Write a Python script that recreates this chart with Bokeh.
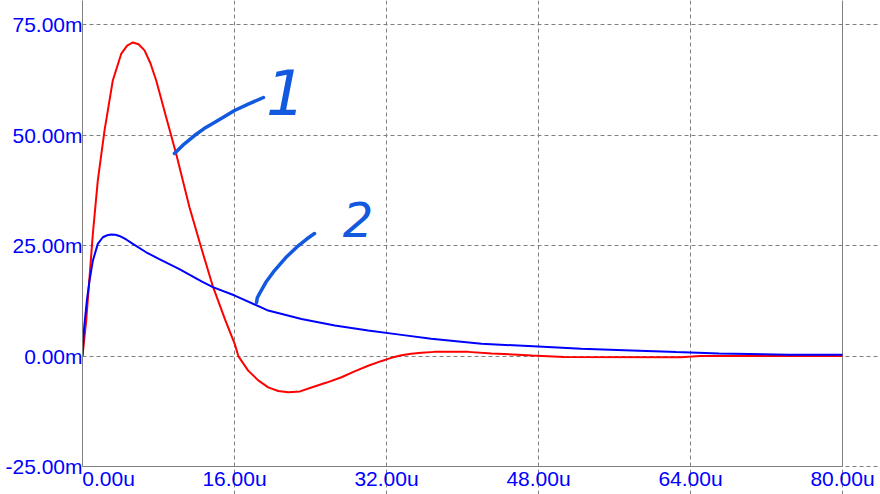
from bokeh.plotting import figure
from bokeh.models import FixedTicker, PrintfTickFormatter, Range1d
from bokeh.core.properties import value
from bokeh.embed import file_html
from bokeh.resources import INLINE

# --- data (time in u, value in m) ---
t1 = [0, 0.39, 1.09, 1.61, 2.32, 3.19, 4.07, 4.7, 5.3, 5.9, 6.53, 7.15, 7.76, 8.8, 9.86,
      11.26, 12.6, 13.75, 15.0, 16.03, 16.4, 17.44, 18.5, 19.55, 20.6, 21.65, 22.9,
      24.1, 25.7, 27.26, 28.7, 30.07, 31.5, 32.5, 33.58, 34.6, 35.7, 37.05, 40.6, 43.05,
      47.3, 50.7, 63, 65, 80]
v1 = [0, 8.0, 27.7, 39.7, 51.1, 62.4, 68.4, 70.3, 71.0, 70.6, 69.2, 66.3, 62.4, 54.1, 45.8,
      33.7, 23.8, 15.6, 8.3, 2.7, 0, -3.3, -5.5, -7.1, -7.9, -8.2, -8.0,
      -7.1, -6.0, -4.8, -3.4, -2.2, -1.1, -0.4, 0.2, 0.5, 0.75, 0.95, 0.95, 0.6,
      0.15, -0.2, -0.25, 0, 0]

t2 = [0, 0.1, 0.21, 0.46, 0.74, 1.09, 1.61, 2.14, 2.6, 3.02, 3.45, 3.89, 4.6, 5.3, 6.7,
      8.03, 10.2, 12.53, 13.72, 16.03, 19.55, 23.05, 26.56, 30.07, 33.58, 36.7, 42,
      47.96, 52.5, 57.8, 62.5, 67, 74.3, 80]
v2 = [0, 4.5, 7.3, 12.6, 17.1, 21.6, 25.4, 26.9, 27.35, 27.5, 27.45, 27.2, 26.4, 25.4, 23.5,
      22.0, 19.7, 16.9, 15.6, 13.7, 10.3, 8.4, 6.9, 5.8, 4.8, 3.9, 2.8,
      2.15, 1.65, 1.25, 0.9, 0.6, 0.3, 0.3]

x_ticks = [0, 16, 32, 48, 64, 80]
x_label_pos = [2.75, 16, 32, 48, 64, 80]   # first label sits right of the axis
x_labels = ["0.00u", "16.00u", "32.00u", "48.00u", "64.00u", "80.00u"]
y_ticks = [-25, 0, 25, 50, 75]

X_MIN, X_MAX = 0, 80          # plotted box
Y_MIN, Y_TOP = -25, 80.5      # plotted box (top is cut by the page)

# hand-drawn annotation leaders (data coords)
lead1_x = [9.68, 10.7, 11.79, 12.8, 13.89, 15.0, 16.0, 17.5, 19.05]
lead1_y = [45.86, 48.0, 49.93, 51.5, 52.88, 54.3, 55.59, 57.1, 58.54]
lead2_x = [18.32, 18.4, 18.63, 19.3, 20.21, 21.4, 22.74, 23.6, 24.42]
lead2_y = [12.12, 13.2, 14.15, 16.7, 19.36, 22.3, 25.02, 26.5, 27.74]
note_text = ["1", "2"]
note_x = [21.4, 29.0]
note_y = [59.8, 30.9]
note_size = ["62px", "48px"]

FONT = "Liberation Sans"
GRAY = "#808080"
ANN = "#1259E0"

# frame extends into the bottom/right margins so tick texts can be drawn as glyphs
p = figure(width=880, height=494, output_backend="svg", toolbar_location=None,
           x_range=Range1d(X_MIN, 84.0), y_range=Range1d(-31.34, Y_TOP),
           min_border_left=82, min_border_right=0, min_border_top=0, min_border_bottom=0)
p.outline_line_color = None
p.background_fill_color = "white"
p.border_fill_color = "white"
p.xaxis.visible = False

ax = p.yaxis[0]
ax.bounds = (Y_MIN, Y_TOP)
ax.axis_line_color = GRAY
ax.axis_line_width = 1
ax.major_tick_line_color = None
ax.minor_tick_line_color = None
ax.major_tick_in = 0
ax.major_tick_out = 0
ax.major_label_text_color = "#0000FF"
ax.major_label_text_font = FONT
ax.major_label_text_font_size = "21px"
ax.major_label_standoff = 0
ax.ticker = FixedTicker(ticks=y_ticks)
ax.formatter = PrintfTickFormatter(format="%.2fm")

p.xgrid.ticker = FixedTicker(ticks=x_ticks)
p.ygrid.ticker = FixedTicker(ticks=y_ticks)
p.xgrid.bounds = (Y_MIN, Y_TOP)
p.ygrid.bounds = (X_MIN, X_MAX)
for g in (p.xgrid[0], p.ygrid[0]):
    g.grid_line_color = GRAY
    g.grid_line_dash = "4 3"
    g.grid_line_width = 1

# box edges: bottom and right
p.line([X_MIN, X_MAX], [Y_MIN, Y_MIN], line_color=GRAY, line_width=1)
p.line([X_MAX, X_MAX], [Y_MIN, Y_TOP], line_color=GRAY, line_width=1)

# x tick labels
p.text(x_label_pos, [Y_MIN] * len(x_label_pos), text=x_labels, text_color="#0000FF",
       text_font=value(FONT), text_font_size="21px", text_align="center",
       text_baseline="top", y_offset=1)

p.line(t1, v1, line_color="#FF0000", line_width=2)
p.line(t2, v2, line_color="#0000FF", line_width=2)

p.line(lead1_x, lead1_y, line_color=ANN, line_width=3.5, line_cap="round", line_join="round")
p.line(lead2_x, lead2_y, line_color=ANN, line_width=3.5, line_cap="round", line_join="round")
p.text(note_x, note_y, text=note_text, text_color=ANN, text_font=value("DejaVu Sans"),
       text_font_size=note_size, text_font_style="italic", text_align="center",
       text_baseline="middle")

open("out.html", "w").write(file_html(p, INLINE))
